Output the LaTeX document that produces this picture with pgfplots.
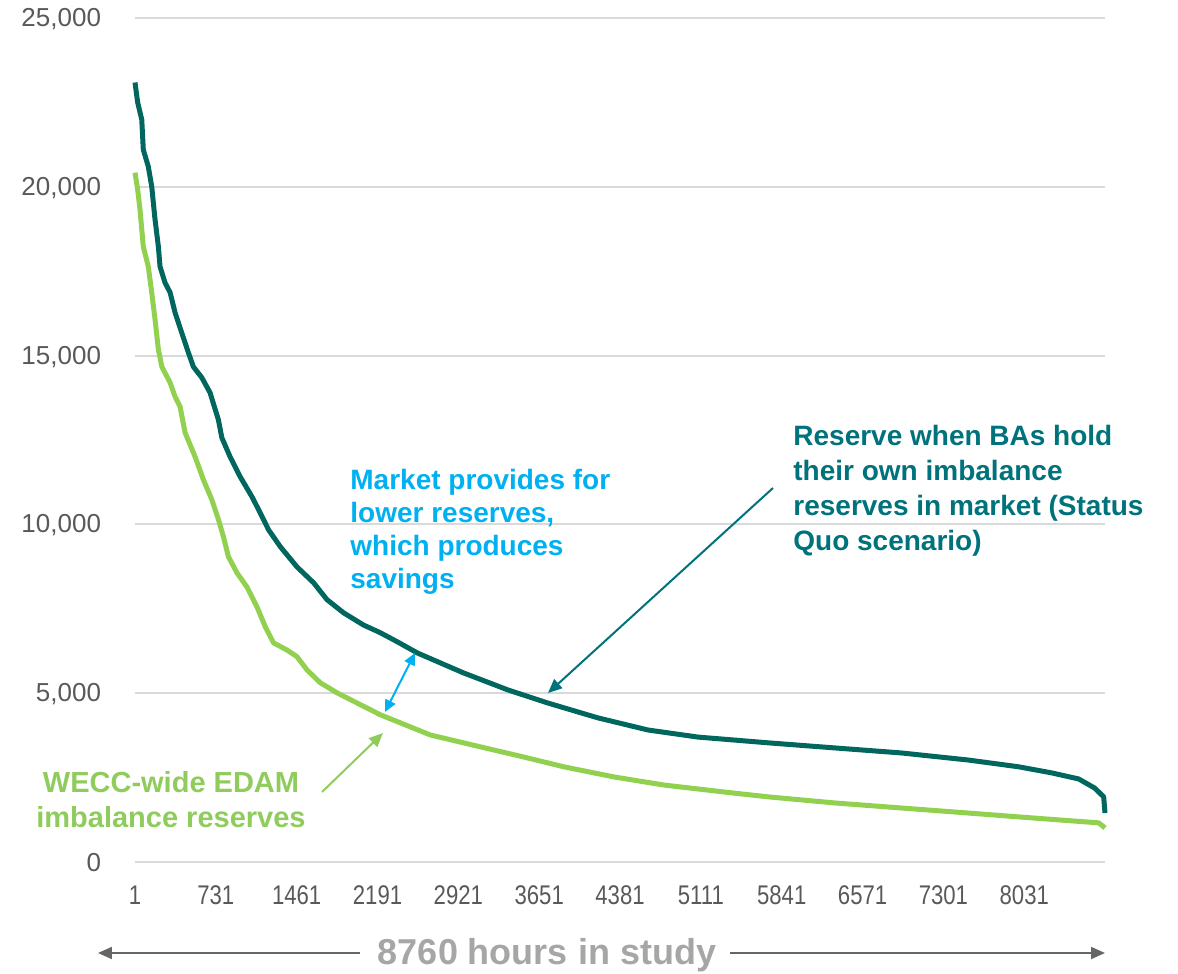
\documentclass[border=0pt]{standalone}
\usepackage{fontspec}
\setmainfont{Liberation Sans}
\newfontfamily\narrowfont[FakeStretch=0.82]{Liberation Sans}
\usepackage{pgfplots}
\pgfplotsset{compat=1.18}
\usetikzlibrary{arrows.meta}
\definecolor{darkteal}{HTML}{00665E}
\definecolor{lightgreen}{HTML}{92D050}
\definecolor{txtteal}{HTML}{00727B}
\definecolor{txtgreen}{HTML}{8FCC5C}
\definecolor{skyblue}{HTML}{00B0F0}
\definecolor{gridgray}{HTML}{D9D9D9}
\definecolor{labgray}{HTML}{595959}
\definecolor{arrgray}{HTML}{666666}
\definecolor{titlegray}{HTML}{A6A6A6}
\pgfplotstableread{
x y
1 23090
25 22500
62 21990
76 21100
121 20600
152 20010
182 19030
212 18230
227 17640
272 17160
318 16870
363 16270
423 15680
483 15090
528 14670
604 14350
679 13900
754 13100
785 12570
860 12000
951 11410
1057 10820
1132 10340
1207 9840
1313 9340
1464 8740
1614 8270
1735 7770
1885 7380
2064 7020
2217 6790
2371 6520
2552 6190
2968 5600
3366 5100
3728 4710
4180 4270
4633 3910
5085 3700
5718 3530
6315 3380
6921 3230
7527 3020
7980 2820
8278 2640
8522 2460
8667 2190
8748 1930
8760 1450
}\statusquo
\pgfplotstableread{
x y
1 20420
25 19920
46 19330
76 18230
121 17640
152 16870
182 16070
212 15180
243 14670
318 14200
363 13780
408 13490
453 12720
544 12000
619 11320
695 10730
755 10140
800 9630
845 9040
921 8570
1011 8150
1102 7560
1177 6970
1252 6490
1373 6280
1464 6080
1554 5690
1674 5310
1826 5010
1916 4860
2217 4360
2670 3760
3122 3410
3511 3110
3873 2820
4325 2520
4777 2280
5383 2050
5718 1930
6315 1750
6921 1600
7527 1450
8124 1300
8577 1190
8703 1160
8760 1010
}\edam
\begin{document}
\begin{tikzpicture}
\useasboundingbox (-67.5pt,-56pt) rectangle (521.5pt,431pt);
\begin{axis}[
  at={(0,0)}, anchor=south west,
  scale only axis, width=485pt, height=422pt,
  xmin=1, xmax=8760, ymin=0, ymax=25000,
  clip=false,
  axis line style={draw=none},
  ymajorgrids, grid style={gridgray, line width=1pt},
  major tick length=0pt,
  /pgf/number format/assume math mode=true,
  xtick={1,731,1461,2191,2921,3651,4381,5111,5841,6571,7301,8031},
  xticklabels={1,731,1461,2191,2921,3651,4381,5111,5841,6571,7301,8031},
  ytick={0,5000,10000,15000,20000,25000},
  yticklabels={0,{5,000},{10,000},{15,000},{20,000},{25,000}},
  xticklabel style={font=\narrowfont\fontsize{13.5}{15}\selectfont, text=labgray, yshift=-8.5pt},
  yticklabel style={font=\fontsize{13}{15}\selectfont, text=labgray, inner sep=0pt, xshift=-16.8pt, yshift=-0.5pt},
]
\addplot[darkteal, line width=2.5pt, line join=round] table {\statusquo};
\addplot[lightgreen, line width=2.5pt, line join=round] table {\edam};
\end{axis}
% annotations
\node[anchor=north west, inner sep=0pt, align=left, text=skyblue,
      font=\bfseries\fontsize{14}{16.5}\selectfont] at (107.5pt,196.5pt)
  {Market provides for\\lower reserves,\\which produces\\savings};
\node[anchor=north west, inner sep=0pt, align=left, text=txtteal,
      font=\bfseries\fontsize{14}{17.5}\selectfont] at (329pt,218.5pt)
  {Reserve when BAs hold\\their own imbalance\\reserves in market (Status\\Quo scenario)};
\node[inner sep=0pt, align=center, text=txtgreen,
      font=\bfseries\fontsize{14.5}{17.5}\selectfont] at (18pt,31pt)
  {WECC-wide EDAM\\imbalance reserves};
\draw[skyblue, line width=1pt, {Triangle[length=6pt,width=5.5pt]}-{Triangle[length=6pt,width=5.5pt]}]
  (125pt,75pt) -- (140pt,104.5pt);
\draw[txtteal, line width=1pt, -{Triangle[length=7pt,width=6pt]}] (319pt,187pt) -- (206.5pt,84.5pt);
\draw[txtgreen, line width=1pt, -{Triangle[length=7pt,width=6pt]}] (93.5pt,35pt) -- (124pt,64.5pt);
% bottom axis caption
\node[text=titlegray, font=\bfseries\fontsize{18}{20}\selectfont, inner sep=0pt] at (206pt,-46.5pt) {8760 hours in study};
\draw[arrgray, line width=1pt, -{Triangle[length=7pt,width=6pt]}] (112.5pt,-45.5pt) -- (-18.5pt,-45.5pt);
\draw[arrgray, line width=1pt, -{Triangle[length=7pt,width=6pt]}] (297.5pt,-45.5pt) -- (485pt,-45.5pt);
\end{tikzpicture}
\end{document}
